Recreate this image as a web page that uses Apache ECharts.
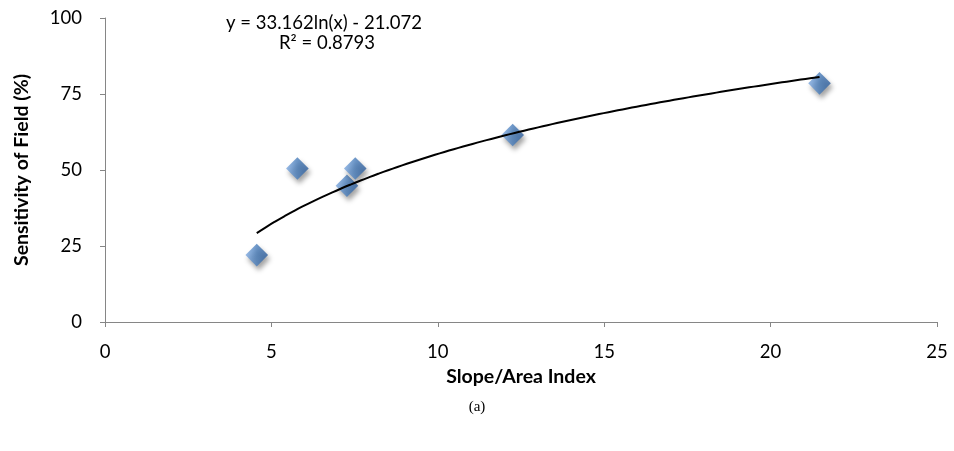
<!DOCTYPE html>
<html>
<head>
<meta charset="utf-8">
<script src="https://cdn.jsdelivr.net/npm/echarts@6/dist/echarts.min.js"></script>
<style>
  html, body { margin: 0; padding: 0; background: #fff; }
  #chart { width: 954px; height: 451px; }
</style>
</head>
<body>
<div id="chart"></div>
<script>
// slope/area index vs sensitivity of field
const slopeArea = [4.56, 5.78, 7.27, 7.52, 12.25, 21.47];
const sensitivity = [22, 50.5, 44.8, 50.5, 61.5, 78.5];
const xTicks = [0, 5, 10, 15, 20, 25];
const yTicks = [0, 25, 50, 75, 100];
// log trendline as printed on the chart
const trendA = 33.162;
const trendB = -21.072;
const trendR2 = 0.8793;

const font = 'Lato, "Open Sans", sans-serif';

let points = slopeArea.map((x, i) => [x, sensitivity[i]]);

// trendline drawn from the chart's own equation, over the data range
let xMin = Math.min(...slopeArea);
let xMax = Math.max(...slopeArea);
let trend = [];
for (let i = 0; i <= 60; i++) {
  let x = xMin + (xMax - xMin) * i / 60;
  trend.push([x, trendA * Math.log(x) + trendB]);
}

let myChart = echarts.init(document.getElementById('chart'));
myChart.setOption({
  animation: false,
  grid: { left: 105, right: 17, top: 18, bottom: 129 },
  graphic: [
    {
      type: 'text',
      style: {
        x: 324, y: 23, text: `y = ${trendA}ln(x) - ${Math.abs(trendB)}`,
        font: '18.5px ' + font, fill: '#000', align: 'center', verticalAlign: 'middle'
      }
    },
    {
      type: 'text',
      style: {
        x: 327, y: 43, text: `R² = ${trendR2}`,
        font: '18.5px ' + font, fill: '#000', align: 'center', verticalAlign: 'middle'
      }
    },
    {
      type: 'text',
      style: {
        x: 477, y: 407, text: '(a)',
        font: '15px "Liberation Serif", serif', fill: '#000', align: 'center', verticalAlign: 'middle'
      }
    }
  ],
  xAxis: {
    type: 'value',
    min: 0, max: 25, interval: 5,
    name: 'Slope/Area Index',
    nameLocation: 'middle',
    nameGap: 41,
    nameTextStyle: { fontFamily: font, fontWeight: 'bold', fontSize: 19.5, color: '#000' },
    axisLine: { lineStyle: { color: '#868686', width: 1 } },
    axisTick: { show: true, length: 5, lineStyle: { color: '#868686' } },
    axisLabel: {
      fontFamily: font, fontSize: 18.5, color: '#000', margin: 21,
      formatter: v => xTicks.includes(v) ? String(v) : ''
    },
    splitLine: { show: false }
  },
  yAxis: {
    type: 'value',
    min: 0, max: 100, interval: 25,
    name: 'Sensitivity of Field (%)',
    nameLocation: 'middle',
    nameGap: 73,
    nameTextStyle: { fontFamily: font, fontWeight: 'bold', fontSize: 19.5, color: '#000' },
    axisLine: { show: true, lineStyle: { color: '#868686', width: 1 } },
    axisTick: { show: true, length: 5, lineStyle: { color: '#868686' } },
    axisLabel: {
      fontFamily: font, fontSize: 18.5, color: '#000', margin: 23,
      formatter: v => yTicks.includes(v) ? String(v) : ''
    },
    splitLine: { show: false }
  },
  series: [
    {
      name: 'trend',
      type: 'line',
      data: trend,
      showSymbol: false,
      smooth: true,
      z: 3,
      lineStyle: { color: '#000', width: 2 }
    },
    {
      name: 'data',
      type: 'scatter',
      data: points,
      symbol: 'rect',
      symbolSize: 16,
      symbolRotate: 45,
      z: 2,
      itemStyle: {
        color: new echarts.graphic.LinearGradient(0, 0, 1, 1, [
          { offset: 0, color: '#7ea9e0' },
          { offset: 0.5, color: '#4a7ebb' },
          { offset: 1, color: '#2c5d9c' }
        ]),
        shadowColor: 'rgba(0,0,0,0.45)',
        shadowBlur: 5,
        shadowOffsetX: 2,
        shadowOffsetY: 4
      }
    }
  ]
});
</script>
</body>
</html>
